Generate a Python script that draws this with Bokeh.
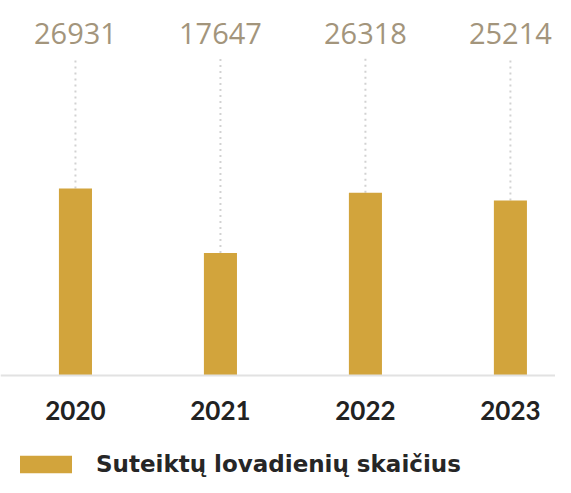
from bokeh.plotting import figure
from bokeh.models import ColumnDataSource, Range1d, LinearAxis, FixedTicker, Legend, LegendItem
from bokeh.core.properties import value
from bokeh.embed import file_html
from bokeh.resources import INLINE

years = ["2020", "2021", "2022", "2023"]
values = [26931, 17647, 26318, 25214]
series_name = "Suteiktų lovadienių skaičius"

xs = list(range(len(years)))
BAR = "#d2a43c"
Y_END = 54000

src = ColumnDataSource(dict(
    x=xs,
    v=values,
    lbl=[str(v) for v in values],
    top=[45650] * len(values),
    ylab=[Y_END] * len(values),
))

p = figure(width=555, height=477, output_backend="svg", toolbar_location=None,
           x_range=Range1d(-0.517, 3.311), y_range=Range1d(-14688, Y_END),
           min_border=0, outline_line_color=None, background_fill_color="white")
p.xaxis.visible = False
p.yaxis.visible = False
p.grid.visible = False

# dotted leader lines
p.segment(x0="x", y0="v", x1="x", y1="top", source=src, line_color="#d2d2d2",
          line_width=2, line_dash="2 4")

bars = p.vbar(x="x", top="v", bottom=0, width=0.228, source=src, fill_color=BAR,
              line_color=None)

p.text(x="x", y="ylab", text="lbl", source=src, text_align="center",
       text_baseline="middle", text_font=value("Open Sans"), text_font_size="29px",
       text_color="#a3957c", y_offset=33)

ax = LinearAxis(fixed_location=0, ticker=FixedTicker(ticks=xs),
                major_label_overrides={i: y for i, y in enumerate(years)})
ax.axis_line_color = "#e2e2e2"
ax.axis_line_width = 2
ax.major_tick_line_color = None
ax.minor_tick_line_color = None
ax.major_tick_out = 0
ax.major_label_standoff = 25
ax.major_label_text_font = "Lato"
ax.major_label_text_font_style = "bold"
ax.major_label_text_font_size = "26px"
ax.major_label_text_color = "#222222"
p.add_layout(ax, "below")

legend = Legend(items=[LegendItem(label=series_name, renderers=[bars])],
                location=(13, 0), margin=0, padding=0, glyph_width=65, glyph_height=22,
                label_standoff=18, label_text_font="DejaVu Sans", label_text_font_style="bold",
                label_text_font_size="23px",
                label_text_color="#262626", border_line_color=None,
                background_fill_alpha=0)
p.add_layout(legend)

open("out.html", "w").write(file_html(p, INLINE))
